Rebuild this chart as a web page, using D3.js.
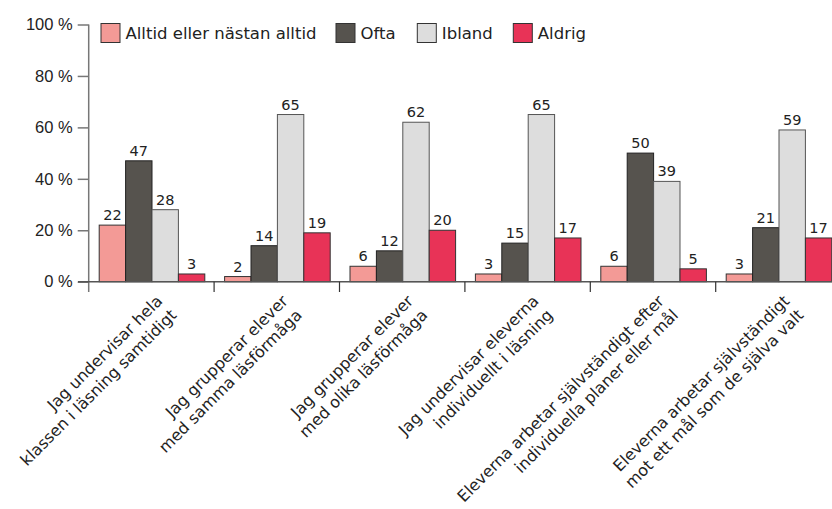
<!DOCTYPE html>
<html>
<head>
<meta charset="utf-8">
<script src="https://cdn.jsdelivr.net/npm/d3@7"></script>
<style>
  body { margin: 0; background: #fff; }
  svg { display: block; font-family: "DejaVu Sans", Verdana, sans-serif; }
</style>
</head>
<body>
<div id="chart"></div>
<script>
// categories (each label split into two lines)
const categories = [
  ["Jag undervisar hela", "klassen i läsning samtidigt"],
  ["Jag grupperar elever", "med samma läsförmåga"],
  ["Jag grupperar elever", "med olika läsförmåga"],
  ["Jag undervisar eleverna", "individuellt i läsning"],
  ["Eleverna arbetar självständigt efter", "individuella planer eller mål"],
  ["Eleverna arbetar självständigt", "mot ett mål som de själva valt"]
];
const series = ["Alltid eller nästan alltid", "Ofta", "Ibland", "Aldrig"];
const colors = ["#f39a96", "#56534e", "#dddddd", "#e83357"];
const strokes = ["#333", "#222", "#555", "#333"];

const alltid = [22, 2, 6, 3, 6, 3];
const ofta   = [47, 14, 12, 15, 50, 21];
const ibland = [28, 65, 62, 65, 39, 59];
const aldrig = [3, 19, 20, 17, 5, 17];
const values = [alltid, ofta, ibland, aldrig];

const yTicks = [0, 20, 40, 60, 80, 100];

const width = 832, height = 509;
const svg = d3.select("#chart").append("svg")
  .attr("width", width)
  .attr("height", height);

let y = d3.scaleLinear().domain([0, 100]).range([281.7, 24.5]);
let idx = categories.map((d, i) => i);
let x0 = d3.scaleBand().domain(idx).range([88.7, 841.1]).padding(0);
let x1 = d3.scaleBand().domain(series).range([10.5, 116.1]).padding(0);

// y axis
let yAxis = svg.append("g")
  .attr("transform", "translate(88.7,0)")
  .call(d3.axisLeft(y).tickValues(yTicks).tickSize(11).tickPadding(5)
    .tickFormat(d => d + " %"));
yAxis.select(".domain").remove();
yAxis.selectAll(".tick line").attr("stroke", "#777").attr("stroke-width", 1.5);
yAxis.selectAll(".tick text").attr("fill", "#222").style("font-size", "16.5px");
svg.append("line")
  .attr("x1", 88.7).attr("x2", 88.7)
  .attr("y1", y(100)).attr("y2", 292)
  .attr("stroke", "#777").attr("stroke-width", 1.5);

// bars
let groups = svg.append("g").selectAll("g")
  .data(idx).join("g")
  .attr("transform", i => "translate(" + x0(i) + ",0)");

groups.selectAll("rect")
  .data(i => series.map((s, k) => ({s: s, k: k, v: values[k][i]})))
  .join("rect")
  .attr("x", d => x1(d.s))
  .attr("y", d => y(d.v))
  .attr("width", x1.bandwidth())
  .attr("height", d => y(0) - y(d.v))
  .attr("fill", d => colors[d.k])
  .attr("stroke", d => strokes[d.k])
  .attr("stroke-width", 1);

groups.selectAll("text.val")
  .data(i => series.map((s, k) => ({s: s, k: k, v: values[k][i]})))
  .join("text")
  .attr("class", "val")
  .attr("x", d => x1(d.s) + x1.bandwidth() / 2)
  .attr("y", d => y(d.v) - 5)
  .attr("text-anchor", "middle")
  .attr("fill", "#222")
  .style("font-size", "14.5px")
  .text(d => d.v);

// x axis line and separators
svg.append("line")
  .attr("x1", 78).attr("x2", width)
  .attr("y1", y(0)).attr("y2", y(0))
  .attr("stroke", "#555").attr("stroke-width", 1.5);
svg.append("g").selectAll("line")
  .data(idx.slice(1)).join("line")
  .attr("x1", i => x0(i)).attr("x2", i => x0(i))
  .attr("y1", y(0)).attr("y2", 292)
  .attr("stroke", "#333").attr("stroke-width", 1.2);

// category labels
let lab = svg.append("g").selectAll("text")
  .data(idx).join("text")
  .attr("transform", i => "translate(" + (x0(i) + x0.bandwidth() / 2 + 12) + ",302) rotate(-45)")
  .attr("text-anchor", "end")
  .attr("fill", "#222")
  .style("font-size", "16px");
lab.selectAll("tspan")
  .data(i => categories[i])
  .join("tspan")
  .attr("x", 0)
  .attr("dy", (d, j) => j === 0 ? 0 : "1.25em")
  .text(d => d);

// legend
const legX = [101, 336, 417.3, 513.3];
let leg = svg.append("g").selectAll("g")
  .data(series).join("g")
  .attr("transform", (d, k) => "translate(" + legX[k] + ",23.5)");
leg.append("rect")
  .attr("width", 19).attr("height", 19)
  .attr("fill", (d, k) => colors[k])
  .attr("stroke", "#333").attr("stroke-width", 1);
leg.append("text")
  .attr("x", 24.5).attr("y", 15.5)
  .attr("fill", "#222")
  .style("font-size", "16.5px")
  .text(d => d);
</script>
</body>
</html>
